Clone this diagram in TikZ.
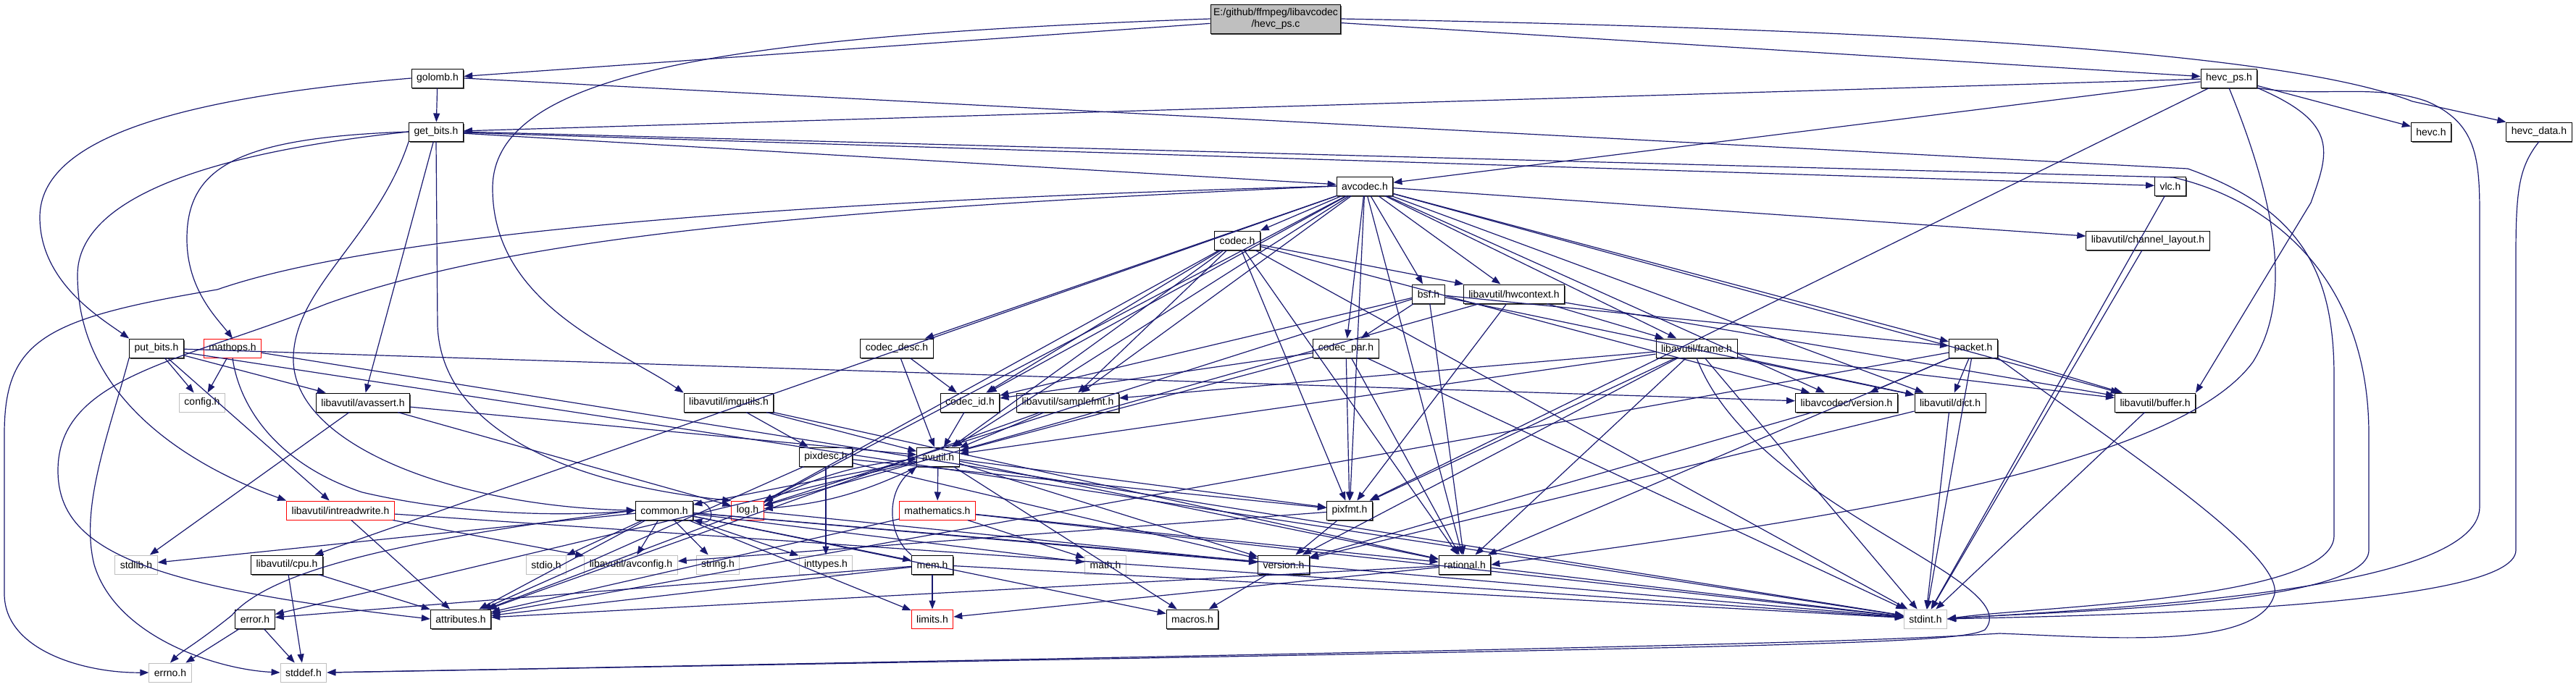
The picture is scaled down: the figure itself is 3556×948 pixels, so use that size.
\documentclass[tikz,border=0pt]{standalone}
\usepackage{fontspec}
\setmainfont{Liberation Sans}
\usetikzlibrary{arrows.meta,shadows}
\definecolor{inclblue}{HTML}{191970}
\definecolor{sysgray}{HTML}{BFBFBF}
\tikzset{
  plainbox/.style={draw=black,fill=white,line width=0.5pt,font=\fontsize{7}{8}\selectfont,
    inner xsep=3.5pt,inner ysep=0pt,minimum height=13pt},
  filebox/.style={plainbox,
    drop shadow={shadow xshift=0.6pt,shadow yshift=-0.9pt,fill=black!70,opacity=1}},
  redbox/.style={plainbox,draw=red},
  sysbox/.style={plainbox,draw=sysgray},
  rootbox/.style={filebox,fill=sysgray,align=center,inner xsep=2pt,minimum height=20pt},
  incl/.style={draw=inclblue,line width=0.6pt,-{Triangle[length=6pt,width=4.5pt]}}
}
\begin{document}
\begin{tikzpicture}[x=0.5pt,y=-0.5pt]
\fill[white] (0,0) rectangle (3556,948);
\useasboundingbox (0,0) rectangle (3556,948);
% ranks 0-3
\node[rootbox] (root) at (1761,26) {E:/github/ffmpeg/libavcodec\\/hevc\_ps.c};
\node[filebox] (golomb) at (604,108) {golomb.h};
\node[filebox] (hevcps) at (3077,108) {hevc\_ps.h};
\node[filebox] (getbits) at (602,182) {get\_bits.h};
\node[filebox] (hevc) at (3356,182) {hevc.h};
\node[filebox] (hevcdata) at (3505,182) {hevc\_data.h};
\node[filebox] (avcodec) at (1884,257) {avcodec.h};
\node[filebox] (vlc) at (2996,257) {vlc.h};
% ranks 4-6
\node[filebox] (codec) at (1708,332) {codec.h};
\node[filebox] (chlayout) at (2965,332) {libavutil/channel\_layout.h};
\node[filebox] (bsf) at (1972,406) {bsf.h};
\node[filebox] (hwcontext) at (2090,406) {libavutil/hwcontext.h};
\node[filebox] (putbits) at (216,481) {put\_bits.h};
\node[redbox] (mathops) at (321,481) {mathops.h};
\node[filebox] (codecdesc) at (1238,481) {codec\_desc.h};
\node[filebox] (codecpar) at (1858,481) {codec\_par.h};
\node[filebox] (frame) at (2342,481) {libavutil/frame.h};
\node[filebox] (packet) at (2724,481) {packet.h};
% ranks 7-8
\node[sysbox] (config) at (279,556) {config.h};
\node[filebox] (avassert) at (501,556) {libavutil/avassert.h};
\node[filebox] (imgutils) at (1006,556) {libavutil/imgutils.h};
\node[filebox] (codecid) at (1339,556) {codec\_id.h};
\node[filebox] (samplefmt) at (1474,556) {libavutil/samplefmt.h};
\node[filebox] (lavcversion) at (2549,556) {libavcodec/version.h};
\node[filebox] (dict) at (2692,556) {libavutil/dict.h};
\node[filebox] (buffer) at (2975,556) {libavutil/buffer.h};
\node[filebox] (pixdesc) at (1140,631) {pixdesc.h};
\node[filebox] (avutil) at (1295,631) {avutil.h};
% ranks 9-12
\node[redbox] (intreadwrite) at (470,705) {libavutil/intreadwrite.h};
\node[filebox] (common) at (917,705) {common.h};
\node[redbox] (log) at (1032,705) {log.h};
\node[redbox] (mathematics) at (1294,705) {mathematics.h};
\node[filebox] (pixfmt) at (1863,705) {pixfmt.h};
\node[sysbox] (stdlib) at (188,780) {stdlib.h};
\node[filebox] (cpu) at (396,780) {libavutil/cpu.h};
\node[sysbox] (stdio) at (754,780) {stdio.h};
\node[sysbox] (avconfig) at (871,780) {libavutil/avconfig.h};
\node[sysbox] (string) at (991,780) {string.h};
\node[sysbox] (inttypes) at (1140,780) {inttypes.h};
\node[filebox] (mem) at (1287,780) {mem.h};
\node[sysbox] (math) at (1526,780) {math.h};
\node[filebox] (version) at (1772,780) {version.h};
\node[filebox] (rational) at (2022,780) {rational.h};
\node[filebox] (error) at (352,855) {error.h};
\node[filebox] (attributes) at (636,855) {attributes.h};
\node[redbox] (limits) at (1287,855) {limits.h};
\node[filebox] (macros) at (1646,855) {macros.h};
\node[sysbox] (stdint) at (2658,855) {stdint.h};
\node[sysbox] (errno) at (235,929) {errno.h};
\node[sysbox] (stddef) at (419,929) {stddef.h};

% straight includes
\foreach \s/\t in {root/golomb,root/hevcps,golomb/getbits,
  hevcps/getbits,hevcps/avcodec,hevcps/pixfmt,hevcps/hevc,
  getbits/avcodec,getbits/vlc,getbits/avassert,
  putbits/config,putbits/avassert,putbits/intreadwrite,putbits/stdint,putbits/lavcversion,
  mathops/config,mathops/stdint,
  avcodec/codec,avcodec/codecdesc,avcodec/codecid,avcodec/codecpar,avcodec/packet,
  avcodec/bsf,avcodec/lavcversion,avcodec/samplefmt,avcodec/avutil,avcodec/buffer,
  avcodec/cpu,avcodec/chlayout,avcodec/dict,avcodec/frame,avcodec/hwcontext,
  avcodec/log,avcodec/pixfmt,avcodec/rational,
  vlc/stdint,chlayout/stdint,
  codec/stdint,codec/avutil,codec/hwcontext,codec/log,codec/pixfmt,codec/rational,
  codec/samplefmt,codec/codecid,codec/lavcversion,
  bsf/dict,bsf/log,bsf/rational,bsf/codecid,bsf/codecpar,bsf/packet,
  hwcontext/buffer,hwcontext/frame,hwcontext/log,hwcontext/pixfmt,
  codecdesc/avutil,codecdesc/codecid,
  codecpar/stdint,codecpar/avutil,codecpar/rational,codecpar/pixfmt,codecpar/codecid,
  frame/stdint,frame/avutil,frame/buffer,frame/dict,frame/rational,frame/samplefmt,
  frame/pixfmt,frame/version,
  packet/stdint,packet/attributes,packet/buffer,packet/dict,packet/rational,packet/lavcversion,
  avassert/stdlib,avassert/avutil,avassert/log,
  imgutils/avutil,imgutils/pixdesc,imgutils/rational,
  codecid/avutil,samplefmt/avutil,samplefmt/attributes,
  lavcversion/version,dict/stdint,dict/version,buffer/stdint,
  pixdesc/inttypes,pixdesc/attributes,pixdesc/pixfmt,pixdesc/version,
  avutil/common,avutil/error,avutil/rational,avutil/version,avutil/macros,
  avutil/mathematics,avutil/pixfmt,
  intreadwrite/stdint,intreadwrite/avconfig,intreadwrite/attributes,
  common/inttypes,common/limits,common/math,common/stdint,common/stdio,common/stdlib,
  common/string,common/attributes,common/macros,common/version,common/avconfig,common/mem,
  log/attributes,log/version,
  mathematics/stdint,mathematics/math,mathematics/attributes,mathematics/rational,
  pixfmt/avconfig,pixfmt/version,cpu/stddef,cpu/attributes,
  mem/limits,mem/stdint,mem/attributes,mem/error,
  version/macros,rational/stdint,rational/limits,rational/attributes,
  error/errno,error/stddef}
  \draw[incl] (\s) -- (\t);

% routed includes
\draw[incl] (root.west) .. controls (1000,50) and (680,100) .. (680,260) .. controls (680,420) and (850,480) .. (imgutils.north west);
\draw[incl] (root.east) .. controls (2600,40) and (3150,70) .. (3330,140) -- (hevcdata.north west);
\draw[incl] (golomb.west) .. controls (250,135) and (55,190) .. (55,300) .. controls (55,390) and (140,440) .. (putbits.north west);
\draw[incl] (golomb.east) -- (3020,233) .. controls (3180,290) and (3222,380) .. (3222,520) -- (3222,740) .. controls (3222,830) and (2800,838) .. (stdint.east);
\draw[incl] (getbits.east) -- (3000,245) .. controls (3130,275) and (3270,380) .. (3270,600) -- (3270,760) .. controls (3270,840) and (2800,845) .. (stdint.east);
\draw[incl] (getbits.west) .. controls (330,190) and (258,230) .. (258,330) .. controls (258,400) and (300,440) .. (mathops.north);
\draw[incl] (getbits.west) .. controls (300,210) and (107,270) .. (107,380) .. controls (107,560) and (280,650) .. (intreadwrite.north west);
\draw[incl] (getbits.south west) .. controls (520,330) and (402,400) .. (405,500) .. controls (410,620) and (640,700) .. (common.west);
\draw[incl] (getbits.south) -- (604,450) .. controls (610,600) and (800,670) .. (log.north west);
\draw[incl] (hevcps.south east) .. controls (3230,170) and (3215,210) .. (3190,280) -- (buffer.north east);
\draw[incl] (hevcps.south) .. controls (3150,300) and (3160,420) .. (3110,500) .. controls (3000,650) and (2500,720) .. (rational.east);
\draw[incl] (hevcps.south east) .. controls (3200,135) and (3280,115) .. (3350,140) .. controls (3420,170) and (3423,220) .. (3423,300) -- (3423,700) .. controls (3423,820) and (2900,840) .. (stdint.east);
\draw[incl] (hevcdata.south) .. controls (3478,230) and (3473,260) .. (3473,350) -- (3473,760) .. controls (3473,840) and (2900,850) .. (stdint.east);
\draw[incl] (putbits.south west) .. controls (150,600) and (110,700) .. (130,780) .. controls (160,880) and (300,925) .. (stddef.west);
\draw[incl] (mathops.south) .. controls (330,560) and (380,640) .. (500,680) .. controls (650,715) and (800,712) .. (common.west);
\draw[incl] (avcodec.west) .. controls (1100,290) and (700,330) .. (450,420) .. controls (250,500) and (80,520) .. (80,650) .. controls (80,760) and (200,810) .. (attributes.west);
\draw[incl] (avcodec.west) .. controls (1000,280) and (500,330) .. (300,400) .. controls (60,440) and (6,470) .. (6,600) -- (6,820) .. controls (6,900) and (120,930) .. (errno.west);
\draw[incl] (frame.south) .. controls (2420,700) and (2800,800) .. (2740,870) .. controls (2700,890) and (2500,893) .. (stddef.east);
\draw[incl] (packet.south east) .. controls (2900,600) and (3150,760) .. (3140,820) .. controls (3120,900) and (2900,880) .. (2760,875) .. controls (2600,885) and (2400,893) .. (stddef.east);
\draw[incl] (common.west) .. controls (600,740) and (380,780) .. (320,850) .. controls (270,890) and (250,900) .. (errno.north);
\draw[incl] (common.north east) .. controls (985,690) and (990,725) .. (common.south east);
\draw[incl] (avutil) to[bend left=10] (log);
\draw[incl] (log) to[bend left=10] (avutil);
\draw[incl] (mem.north west) .. controls (1225,740) and (1222,680) .. (avutil.south west);
\end{tikzpicture}
\end{document}
